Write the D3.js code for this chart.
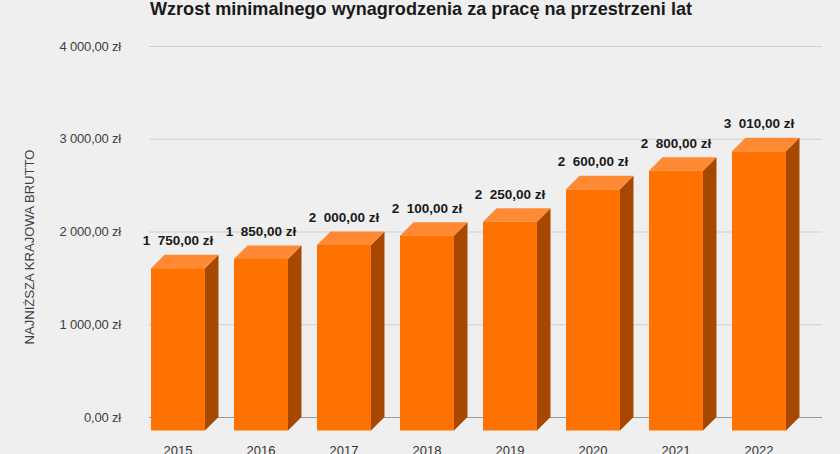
<!DOCTYPE html>
<html><head><meta charset="utf-8">
<script src="https://cdn.jsdelivr.net/npm/d3@7"></script>
<style>
html,body{margin:0;padding:0;background:#efefef;}
svg{display:block;font-family:"Liberation Sans",Arial,sans-serif;}
</style></head>
<body>
<svg id="chart" width="840" height="454"></svg>
<script>
const years = ["2015","2016","2017","2018","2019","2020","2021","2022"];
const values = [1750, 1850, 2000, 2100, 2250, 2600, 2800, 3010];
const valueLabels = ["1  750,00 zł","1  850,00 zł","2  000,00 zł","2  100,00 zł","2  250,00 zł","2  600,00 zł","2  800,00 zł","3  010,00 zł"];
const yTicks = [0, 1000, 2000, 3000, 4000];
const yTickLabels = ["0,00 zł","1 000,00 zł","2 000,00 zł","3 000,00 zł","4 000,00 zł"];
const title = "Wzrost minimalnego wynagrodzenia za pracę na przestrzeni lat";
const yTitle = "NAJNIŻSZA KRAJOWA BRUTTO";

const svg = d3.select("#chart");
const W = 840, H = 454;
const gridX0 = 149, gridX1 = 822;
const depth = 13.5;

const y = d3.scaleLinear().domain([0, 4000]).range([417, 46]);
const x = d3.scaleBand().domain(years).range([150, 814]).paddingInner(0.35).paddingOuter(0.175);

svg.append("rect").attr("width", W).attr("height", H).attr("fill", "#efefef");

// title
svg.append("text").attr("x", 421).attr("y", 15).attr("text-anchor", "middle")
  .attr("font-size", 19).attr("font-weight", "bold").attr("fill", "#1a1a1a")
  .attr("textLength", 542).attr("lengthAdjust", "spacingAndGlyphs").text(title);

// grid
const grid = svg.append("g").attr("transform", `translate(${gridX0},0)`)
  .call(d3.axisRight(y).tickValues(yTicks).tickSize(gridX1 - gridX0).tickFormat(""));
grid.select(".domain").remove();
grid.selectAll(".tick line").attr("stroke", d => d === 0 ? "#9a9a9a" : "#cfcfcf").attr("stroke-width", d => d === 0 ? 1.2 : 1);

// y tick labels
svg.append("g").selectAll("text").data(yTicks).join("text")
  .attr("x", 121).attr("y", d => y(d)).attr("dy", "0.35em").attr("text-anchor", "end")
  .attr("font-size", 13).attr("fill", "#404040").attr("letter-spacing", -0.2)
  .text((d, i) => yTickLabels[i]);

// y axis title
svg.append("text").attr("transform", "translate(34,247) rotate(-90)")
  .attr("text-anchor", "middle").attr("font-size", 13).attr("fill", "#404040")
  .attr("textLength", 195).attr("lengthAdjust", "spacingAndGlyphs").text(yTitle);

// bars
const bars = svg.append("g").selectAll("g").data(years).join("g");
bars.each(function(yr, i) {
  const g = d3.select(this);
  const w = x.bandwidth();
  const fx = x(yr) - depth;
  const fy = y(values[i]) + depth;
  const fb = y(0) + depth;
  // side
  g.append("polygon").attr("fill", "#a64800")
    .attr("points", [[fx + w, fy], [fx + w + depth, fy - depth], [fx + w + depth, y(0)], [fx + w, fb]].map(p => p.join(",")).join(" "));
  // top
  g.append("polygon").attr("fill", "#ff8a33")
    .attr("points", [[fx, fy], [fx + depth, fy - depth], [fx + w + depth, fy - depth], [fx + w, fy]].map(p => p.join(",")).join(" "));
  // front
  g.append("rect").attr("x", fx).attr("y", fy).attr("width", w).attr("height", fb - fy).attr("fill", "#ff7200");
  // value label
  g.append("text").attr("x", fx + w / 2).attr("y", y(values[i]) - 9.5)
    .attr("text-anchor", "middle").attr("font-size", 13.5).attr("font-weight", "bold")
    .attr("fill", "#1a1a1a").style("white-space", "pre").text(valueLabels[i]);
  // x label
  g.append("text").attr("x", fx + w / 2).attr("y", 455)
    .attr("text-anchor", "middle").attr("font-size", 13).attr("fill", "#333").text(yr);
});
</script>
</body></html>
